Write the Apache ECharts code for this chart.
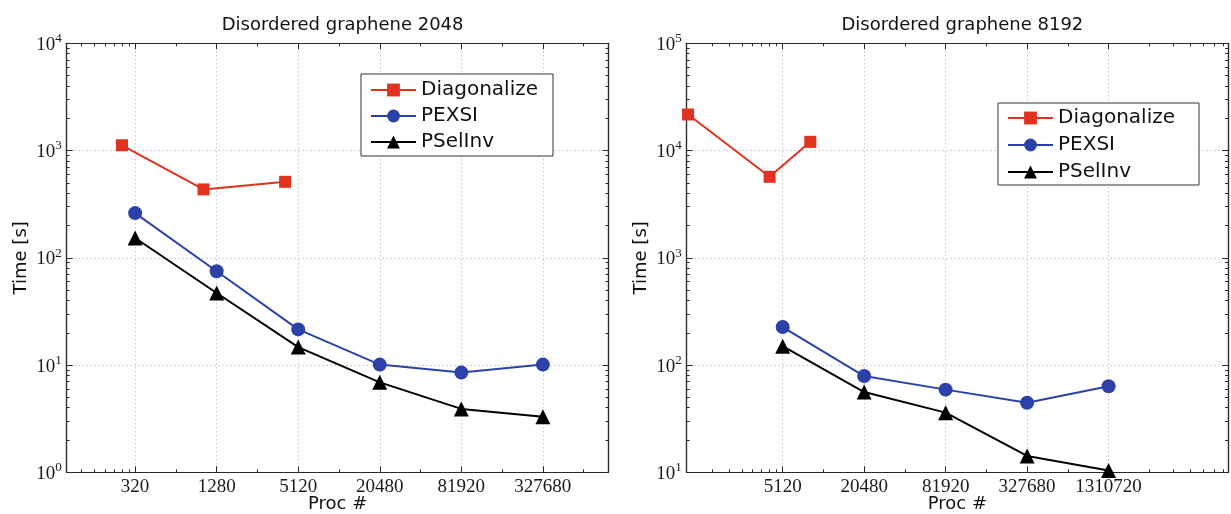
<!DOCTYPE html>
<html>
<head>
<meta charset="utf-8">
<script src="https://cdn.jsdelivr.net/npm/echarts@6/dist/echarts.min.js"></script>
<style>html,body{margin:0;padding:0;background:#fff;}#chart{width:1231px;height:514px;}</style>
</head>
<body>
<div id="chart"></div>
<script>
// ---- data ----
const seriesNames = ['Diagonalize', 'PEXSI', 'PSelInv'];
const titleL = 'Disordered graphene 2048';
const titleR = 'Disordered graphene 8192';
const xName = 'Proc #';
const yName = 'Time [s]';

// left panel (2048)
const diagProcL = [256, 1024, 4096];
const diagL = [1120, 434, 511];
const procL = [320, 1280, 5120, 20480, 81920, 327680];
const pexsiL = [261, 75, 21.5, 10.1, 8.5, 10.1];
const pselinvL = [153, 47, 14.7, 6.9, 3.9, 3.3];

// right panel (8192)
const diagProcR = [1024, 4096, 8192];
const diagR = [21700, 5690, 12050];
const procR = [5120, 20480, 81920, 327680, 1310720];
const pexsiR = [226, 79, 59, 44.5, 63.5];
const pselinvR = [150, 56, 36, 14.2, 10.4];

// tick values
const xTicksL = [320, 1280, 5120, 20480, 81920, 327680];
const xTicksR = [5120, 20480, 81920, 327680, 1310720];
const xMinorL = [128, 160, 192, 224, 256, 288, 640, 2560, 10240, 40960, 163840, 655360];
const xMinorR = [1536, 2048, 2560, 3072, 3584, 4096, 4608, 10240, 40960, 163840, 655360, 2621440, 3932160, 5242880, 6553600, 7864320, 9175040];
const yTicksL = [1, 10, 100, 1000, 10000];
const yTicksR = [10, 100, 1000, 10000, 100000];

function minorDecades(ticks) {
  const out = [];
  for (let i = 0; i < ticks.length - 1; i++) {
    for (let k = 2; k <= 9; k++) out.push(ticks[i] * k);
  }
  return out;
}

const RED = '#e2311f', BLUE = '#2c41a8', BLACK = '#000000';
const AXC = '#2a2a2a';
const GRIDC = '#a8a8a8';

function xAxes(gi, min, max, major, minor) {
  const base = {type: 'log', logBase: 10, min: min, max: max, gridIndex: gi,
    axisLine: {show: true, lineStyle: {color: AXC, width: 1.2}},
    axisLabel: {show: false}, splitLine: {show: false}, minorTick: {show: false}};
  return [
    Object.assign({}, base, {position: 'bottom',
      name: xName, nameLocation: 'middle', nameGap: 23, nameMoveOverlap: false,
      nameTextStyle: {fontFamily: 'DejaVu Sans', fontSize: 18, color: '#111'},
      axisTick: {show: true, inside: true, length: 6, customValues: major, lineStyle: {color: AXC}},
      axisLabel: {show: true, customValues: major, margin: 5, fontFamily: 'Liberation Serif', fontSize: 19, color: '#1a1a1a',
        formatter: function (v) { return String(v); }},
      splitLine: {show: true, lineStyle: {color: GRIDC, type: [1, 3], width: 1}}}),
    Object.assign({}, base, {position: 'bottom',
      axisTick: {show: true, inside: true, length: 3, customValues: minor, lineStyle: {color: AXC}}}),
    Object.assign({}, base, {position: 'top',
      axisTick: {show: true, inside: true, length: 6, customValues: major, lineStyle: {color: AXC}}}),
    Object.assign({}, base, {position: 'top',
      axisTick: {show: true, inside: true, length: 3, customValues: minor, lineStyle: {color: AXC}}})
  ];
}

function yAxes(gi, major) {
  const minor = minorDecades(major);
  const min = major[0], max = major[major.length - 1];
  const base = {type: 'log', logBase: 10, min: min, max: max, gridIndex: gi,
    axisLine: {show: true, lineStyle: {color: AXC, width: 1.2}},
    axisLabel: {show: false}, splitLine: {show: false}, minorTick: {show: false}};
  return [
    Object.assign({}, base, {position: 'left',
      name: yName, nameLocation: 'middle', nameGap: 36, nameMoveOverlap: false,
      nameTextStyle: {fontFamily: 'DejaVu Sans', fontSize: 18, color: '#111'},
      axisTick: {show: true, inside: true, length: 6, customValues: major, lineStyle: {color: AXC}},
      axisLabel: {show: true, customValues: major, margin: 5,
        formatter: function (v) { return '{b|10}{s|' + Math.round(Math.log10(v)) + '}'; },
        rich: {
          b: {fontFamily: 'Liberation Serif', fontSize: 19, color: '#1a1a1a', lineHeight: 22, verticalAlign: 'bottom'},
          s: {fontFamily: 'Liberation Serif', fontSize: 13, color: '#1a1a1a', verticalAlign: 'top', lineHeight: 13}
        }},
      splitLine: {show: true, lineStyle: {color: GRIDC, type: [1, 3], width: 1}}}),
    Object.assign({}, base, {position: 'left',
      axisTick: {show: true, inside: true, length: 3, customValues: minor, lineStyle: {color: AXC}}}),
    Object.assign({}, base, {position: 'right',
      axisTick: {show: true, inside: true, length: 6, customValues: major, lineStyle: {color: AXC}}}),
    Object.assign({}, base, {position: 'right',
      axisTick: {show: true, inside: true, length: 3, customValues: minor, lineStyle: {color: AXC}}})
  ];
}

function zip(xs, ys) { return xs.map((x, i) => [x, ys[i]]); }

function lineSeries(name, color, symbol, size, axisIdx, data, z) {
  return {
    name: name, type: 'line', xAxisIndex: axisIdx, yAxisIndex: axisIdx,
    data: data, symbol: symbol, symbolSize: size, showSymbol: true, clip: false,
    lineStyle: {color: color, width: 2}, itemStyle: {color: color, borderWidth: 0},
    emphasis: {disabled: true}, animation: false, z: z
  };
}

const legendBase = {
  orient: 'vertical', data: seriesNames, backgroundColor: '#fff',
  borderColor: '#333', borderWidth: 1, itemWidth: 45, itemHeight: 16,
  textStyle: {fontFamily: 'DejaVu Sans', fontSize: 20, color: '#111'},
  selectedMode: false
};

const option = {
  animation: false,
  backgroundColor: '#ffffff',
  title: [
    {text: titleL, left: 337.6, top: 11, textAlign: 'center',
      textStyle: {fontFamily: 'DejaVu Sans', fontSize: 18, fontWeight: 'normal', color: '#111'}},
    {text: titleR, left: 957.4, top: 11, textAlign: 'center',
      textStyle: {fontFamily: 'DejaVu Sans', fontSize: 18, fontWeight: 'normal', color: '#111'}}
  ],
  legend: [
    Object.assign({}, legendBase, {left: 361, top: 74, itemGap: 6, padding: [6, 15, 4, 9]}),
    Object.assign({}, legendBase, {left: 998, top: 103, itemGap: 7, padding: [5, 24, 3, 9]})
  ],
  grid: [
    {left: 66.7, right: 622.5, top: 43.3, bottom: 41.7, outerBoundsMode: 'none', containLabel: false},
    {left: 686.7, right: 3, top: 43.3, bottom: 41.7, outerBoundsMode: 'none', containLabel: false}
  ],
  xAxis: xAxes(0, 100, 1000000, xTicksL, xMinorL).concat(xAxes(1, 1000, 10000000, xTicksR, xMinorR)),
  yAxis: yAxes(0, yTicksL).concat(yAxes(1, yTicksR)),
  series: [
    lineSeries(seriesNames[0], RED, 'rect', 12, 0, zip(diagProcL, diagL), 3),
    lineSeries(seriesNames[1], BLUE, 'circle', 14, 0, zip(procL, pexsiL), 4),
    lineSeries(seriesNames[2], BLACK, 'triangle', 15, 0, zip(procL, pselinvL), 5),
    lineSeries(seriesNames[0], RED, 'rect', 12, 4, zip(diagProcR, diagR), 3),
    lineSeries(seriesNames[1], BLUE, 'circle', 14, 4, zip(procR, pexsiR), 4),
    lineSeries(seriesNames[2], BLACK, 'triangle', 15, 4, zip(procR, pselinvR), 5)
  ]
};

const chart = echarts.init(document.getElementById('chart'), null, {renderer: 'canvas'});
chart.setOption(option);
</script>
</body>
</html>
